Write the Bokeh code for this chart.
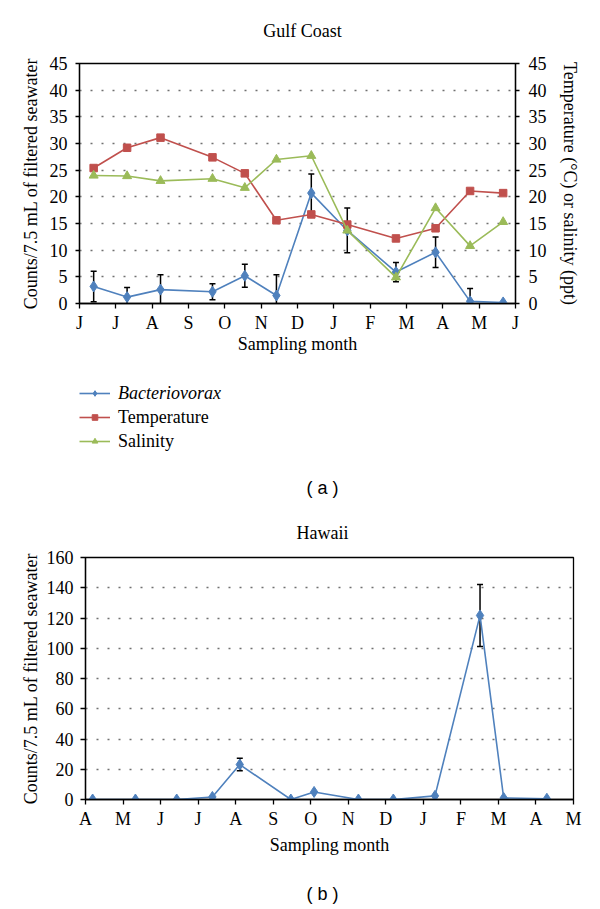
import numpy as np
from bokeh.plotting import figure
from bokeh.models import (Range1d, LinearAxis, FixedTicker, Whisker, ColumnDataSource,
                          Legend, LegendItem, Label, TeeHead)
from bokeh.embed import file_html
from bokeh.resources import INLINE

# ---------------- data ----------------
gc_months = ["J", "J", "A", "S", "O", "N", "D", "J", "F", "M", "A", "M", "J"]
gc_x = [0.39, 1.31, 2.23, 3.66, 4.55, 5.42, 6.38, 7.37, 8.71, 9.80, 10.75, 11.66]
gc_bact = [3.2, 1.2, 2.6, 2.2, 5.2, 1.5, 20.7, 13.7, 5.9, 9.6, 0.4, 0.2]
gc_bact_err = [2.85, 1.8, 2.8, 1.5, 2.15, 3.9, 3.6, 4.2, 1.8, 2.85, 2.4, 0.0]
gc_temp = [25.4, 29.2, 31.1, 27.4, 24.4, 15.6, 16.7, 14.8, 12.2, 14.1, 21.1, 20.7]
gc_sal = [24.0, 23.9, 23.0, 23.4, 21.7, 27.0, 27.7, 13.7, 4.9, 17.9, 10.8, 15.3]

hi_months = ["A", "M", "J", "J", "A", "S", "O", "N", "D", "J", "F", "M", "A", "M"]
hi_x = [0.19, 1.33, 2.43, 3.38, 4.11, 5.47, 6.09, 7.27, 8.20, 9.31, 10.51, 11.14, 12.29]
hi_bact = [0.0, 0.0, 0.0, 1.7, 23.1, 0.0, 5.0, 0.0, 0.0, 2.4, 121.7, 1.0, 0.5]
hi_bact_err = [0, 0, 0, 0, 4.1, 0, 0, 0, 0, 0, 20.5, 0, 0]

series_names = ["Bacteriovorax", "Temperature", "Salinity"]

SERIF = "Liberation Serif"
SANS = "Liberation Sans"
BLUE = "#4F81BD"
RED = "#C0504D"
GREEN = "#9BBB59"
FS = "18px"


def style_axis(ax, standoff=7, tick_out=4, label_standoff=6):
    ax.axis_line_color = "black"
    ax.axis_line_width = 1.3
    ax.major_tick_line_color = "black"
    ax.major_tick_line_width = 1.3
    ax.major_tick_out = tick_out
    ax.major_tick_in = 0
    ax.minor_tick_line_color = None
    ax.major_label_text_font = SERIF
    ax.major_label_text_font_size = FS
    ax.major_label_text_color = "black"
    ax.major_label_standoff = standoff
    ax.axis_label_text_font = SERIF
    ax.axis_label_text_font_size = FS
    ax.axis_label_text_font_style = "normal"
    ax.axis_label_text_color = "black"
    ax.axis_label_standoff = label_standoff


def base_style(p):
    p.outline_line_color = "black"
    p.outline_line_width = 1.3
    p.xgrid.visible = False
    p.ygrid.grid_line_color = "#707070"
    p.ygrid.grid_line_width = 1.5
    p.ygrid.grid_line_dash = "2 9"
    p.background_fill_color = "white"
    p.border_fill_color = "white"


def style_title(t, offset, standoff):
    t.text_font = SERIF
    t.text_font_size = FS
    t.text_font_style = "normal"
    t.text_color = "black"
    t.align = "left"
    t.offset = offset
    t.standoff = standoff


def strip(height):
    s = figure(width=600, height=height, x_range=Range1d(100, 101), y_range=Range1d(100, 101),
               x_axis_type=None, y_axis_type=None, output_backend="svg",
               toolbar_location=None, min_border=0, min_border_left=0, min_border_right=0,
               min_border_top=0, min_border_bottom=0)
    s.outline_line_color = None
    s.grid.visible = False
    s.background_fill_color = "white"
    s.border_fill_color = "white"
    s.title.visible = False
    return s


def text_label(p, x, y, txt, font):
    p.add_layout(Label(x=x, y=y, x_units="screen", y_units="screen", text=txt,
                       text_font=font, text_font_size=FS, text_align="center",
                       text_baseline="middle", text_color="black"))


def whiskers(p, xs, ys, errs, lo_clip):
    xw = [x for x, e in zip(xs, errs) if e > 0]
    up = [y + e for y, e in zip(ys, errs) if e > 0]
    lo = [max(y - e, lo_clip) for y, e in zip(ys, errs) if e > 0]
    src = ColumnDataSource(dict(x=xw, upper=up, lower=lo))
    w = Whisker(base="x", upper="upper", lower="lower", source=src, dimension="height",
                line_color="black", line_width=1.5,
                upper_head=TeeHead(size=6, line_color="black", line_width=1.5),
                lower_head=TeeHead(size=6, line_color="black", line_width=1.5))
    p.add_layout(w)


marker_specs = [(BLUE, "diamond", 11), (RED, "square", 7.5), (GREEN, "triangle", 9)]
legend_marker_sizes = [8, 6, 6.5]
gc_series = [gc_bact, gc_temp, gc_sal]

# ---------------- title strip ----------------
pt = strip(48)
text_label(pt, 302, 18, "Gulf Coast", SERIF)

# ---------------- (a) Gulf Coast ----------------
p1 = figure(width=600, height=312, x_range=Range1d(0, 12), y_range=Range1d(0, 45),
            output_backend="svg", toolbar_location=None,
            min_border_left=79, min_border_right=85, min_border_top=15, min_border_bottom=57)
base_style(p1)
p1.title.visible = False

p1.xaxis.ticker = FixedTicker(ticks=list(range(len(gc_months))))
p1.xaxis.major_label_overrides = {i: m for i, m in enumerate(gc_months)}
p1.xaxis.axis_label = "Sampling month"
style_axis(p1.xaxis[0], standoff=4, tick_out=5, label_standoff=-2)
p1.yaxis.ticker = FixedTicker(ticks=list(range(0, 50, 5)))
p1.ygrid.ticker = FixedTicker(ticks=list(range(5, 45, 5)))
p1.yaxis.axis_label = "Counts/7.5 mL of filtered seawater"
style_axis(p1.yaxis[0], standoff=8, label_standoff=6)

p1.extra_y_ranges = {"r": Range1d(0, 45)}
rax = LinearAxis(y_range_name="r", ticker=FixedTicker(ticks=list(range(0, 50, 5))),
                 axis_label="Temperature (°C) or salinity (ppt)")
style_axis(rax, standoff=9, label_standoff=10)
p1.add_layout(rax, "right")

for ys, (col, mk, sz) in zip(gc_series, marker_specs):
    p1.line(gc_x, ys, line_color=col, line_width=1.6)
    p1.scatter(gc_x, ys, marker=mk, size=sz, fill_color=col, line_color=col)
whiskers(p1, gc_x, gc_bact, gc_bact_err, -0.6)

# ---------------- legend strip + (a) ----------------
pl = strip(145)
items = []
for name, ys, (col, mk, _), lsz in zip(series_names, gc_series, marker_specs,
                                        legend_marker_sizes):
    rl = pl.line(gc_x, ys, line_color=col, line_width=1.6)
    rs = pl.scatter(gc_x, ys, marker=mk, size=lsz, fill_color=col, line_color=col)
    items.append(LegendItem(label=name, renderers=[rl, rs]))


def mk_legend(its, style, loc):
    return Legend(items=its, location=loc, orientation="vertical",
                  margin=0, padding=0, spacing=0,
                  glyph_width=31, glyph_height=14, label_height=24, label_standoff=8,
                  label_text_font=SERIF, label_text_font_size=FS, label_text_font_style=style,
                  label_text_color="black",
                  border_line_color=None, background_fill_alpha=0)


pl.add_layout(mk_legend(items[:1], "italic", (79, 100)))
pl.add_layout(mk_legend(items[1:], "normal", (79, 52)))
text_label(pl, 322, 18, "( a )", SANS)

# ---------------- (b) Hawaii ----------------
p2 = figure(width=600, height=358, x_range=Range1d(0, 13), y_range=Range1d(0, 160),
            output_backend="svg", toolbar_location=None,
            min_border_left=85, min_border_right=27, min_border_top=52, min_border_bottom=64)
base_style(p2)
p2.title.text = "Hawaii"
style_title(p2.title, 211, 30)

p2.xaxis.ticker = FixedTicker(ticks=list(range(len(hi_months))))
p2.xaxis.major_label_overrides = {i: m for i, m in enumerate(hi_months)}
p2.xaxis.axis_label = "Sampling month"
style_axis(p2.xaxis[0], standoff=4, tick_out=5, label_standoff=3)
p2.yaxis.ticker = FixedTicker(ticks=list(range(0, 180, 20)))
p2.ygrid.ticker = FixedTicker(ticks=list(range(20, 160, 20)))
p2.yaxis.axis_label = "Counts/7.5 mL of filtered seawater"
style_axis(p2.yaxis[0], tick_out=5, label_standoff=3)

p2.line(hi_x, hi_bact, line_color=BLUE, line_width=1.6)
p2.scatter(hi_x, hi_bact, marker="diamond", size=11, fill_color=BLUE, line_color=BLUE)
whiskers(p2, hi_x, hi_bact, hi_bact_err, 0)

pb = strip(45)
text_label(pb, 322, 15, "( b )", SANS)

open("out.html", "w").write(file_html([pt, p1, pl, p2, pb], INLINE))
